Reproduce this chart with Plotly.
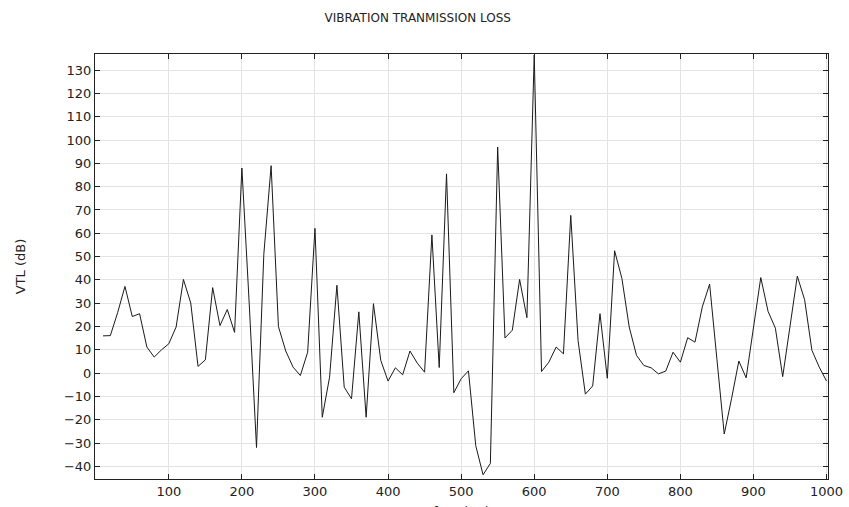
import plotly.graph_objects as go

freq = list(range(10, 1001, 10))
vtl = [
    16.0, 16.1, 26.0, 37.2, 24.3, 25.5, 11.2, 6.9, 10.0, 12.6,
    19.8, 40.2, 30.1, 2.9, 5.7, 36.7, 20.4, 27.3, 17.5, 88.0,
    30.0, -31.9, 51.0, 89.0, 20.0, 9.5, 2.6, -1.0, 9.0, 62.1,
    -18.9, -1.7, 37.7, -6.0, -11.0, 26.3, -18.9, 29.8, 5.5, -3.4,
    2.3, -0.7, 9.5, 4.3, 0.4, 59.3, 2.4, 85.5, -8.4, -2.4,
    1.0, -31.1, -43.6, -38.7, 97.0, 15.1, 18.4, 40.2, 23.8, 136.5,
    0.7, 4.7, 11.2, 8.3, 67.7, 14.0, -9.0, -5.5, 25.5, -2.2,
    52.5, 40.6, 19.8, 7.6, 3.3, 2.3, -0.3, 0.9, 9.0, 4.7,
    15.2, 13.3, 28.4, 38.2, 6.0, -26.1, -11.0, 5.2, -2.0, 20.1,
    41.0, 26.5, 19.3, -1.5, 19.8, 41.6, 31.5, 9.8, 2.6, -3.4,
]
x_ticks = list(range(100, 1001, 100))
y_ticks = list(range(-40, 131, 10))

title_text = "VIBRATION TRANMISSION LOSS"
y_title = "VTL (dB)"
x_title = "freq (Hz)"

font_family = "DejaVu Sans"

fig = go.Figure()
fig.add_trace(go.Scatter(
    x=freq, y=vtl, mode="lines",
    line=dict(color="#1a1a1a", width=1),
    showlegend=False, hoverinfo="skip",
))

axis_common = dict(
    showline=True, linecolor="#222222", linewidth=1, mirror="ticks",
    ticks="inside", ticklen=5, tickcolor="#222222", tickwidth=1,
    showgrid=True, gridcolor="#e3e3e3", gridwidth=1,
    zeroline=False, automargin=False,
    tickfont=dict(family=font_family, size=13, color="#222222"),
)

fig.update_layout(
    width=849, height=507,
    margin=dict(l=95, r=21, t=54, b=28),
    paper_bgcolor="white", plot_bgcolor="white",
    title=dict(text=title_text, x=0.492, xref="container", xanchor="center",
               y=1 - 18 / 507, yref="container", yanchor="middle",
               font=dict(family=font_family, size=12, color="#222222")),
    xaxis=dict(range=[-1, 1002], tickvals=x_ticks, **axis_common),
    yaxis=dict(range=[-45.4, 136.9], tickvals=y_ticks,
               title=dict(text=y_title, standoff=35,
                          font=dict(family=font_family, size=13, color="#222222")),
               **axis_common),
    annotations=[dict(text=x_title, xref="paper", yref="paper", x=0.5, y=-0.054,
                      xanchor="center", yanchor="top", showarrow=False,
                      font=dict(family=font_family, size=13, color="#222222"))],
)

fig.write_html("out.html", config={"displayModeBar": False},
               post_script="document.body.style.margin='0px';")
